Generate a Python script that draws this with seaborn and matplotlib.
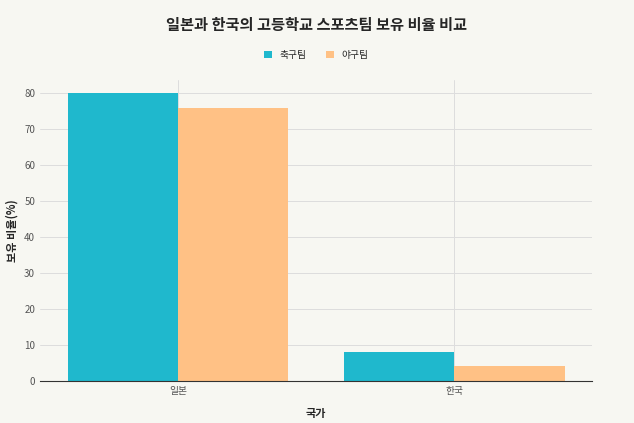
import matplotlib
matplotlib.use("Agg")
import matplotlib.pyplot as plt
import seaborn as sns
import pandas as pd

countries = ["일본", "한국"]
soccer = [80, 8]
baseball = [76, 4]
series_names = ["축구팀", "야구팀"]

df = pd.DataFrame({
    "국가": countries * 2,
    "팀": [series_names[0]] * 2 + [series_names[1]] * 2,
    "비율": soccer + baseball,
})

sns.set_style("whitegrid")
plt.rcParams['font.family'] = ['Noto Sans CJK KR', 'DejaVu Sans']
bg = "#f7f7f2"
fig, ax = plt.subplots(figsize=(6.34, 4.23), dpi=100, facecolor=bg)
ax.set_facecolor(bg)
sns.barplot(data=df, x="국가", y="비율", hue="팀", palette=["#1FB8CD", "#FFC185"],
            width=0.8, saturation=1, linewidth=0, ax=ax)
ax.set_xlim(-0.5, 1.5)
ax.set_ylim(0, 83.6)
ax.set_yticks(range(0, 81, 10))
ax.grid(True, color="#dddddd", linewidth=0.7)
for s in ["top", "right", "left"]:
    ax.spines[s].set_visible(False)
ax.spines["bottom"].set_color("#333333")
ax.tick_params(labelsize=7, colors="#555555", length=0)
ax.set_xlabel("국가", fontsize=8, fontweight="bold", labelpad=8)
ax.set_ylabel("보유 비율(%)", fontsize=8, fontweight="bold")
fig.suptitle("일본과 한국의 고등학교 스포츠팀 보유 비율 비교", fontsize=11, fontweight="bold", y=0.96)
ax.legend(loc="upper center", bbox_to_anchor=(0.5, 1.13), ncol=2, frameon=False,
          fontsize=7, handlelength=0.8, handleheight=0.8, title=None)
fig.subplots_adjust(left=0.063, right=0.934, top=0.81, bottom=0.1)
fig.savefig("out.png", dpi=100, facecolor=bg)
